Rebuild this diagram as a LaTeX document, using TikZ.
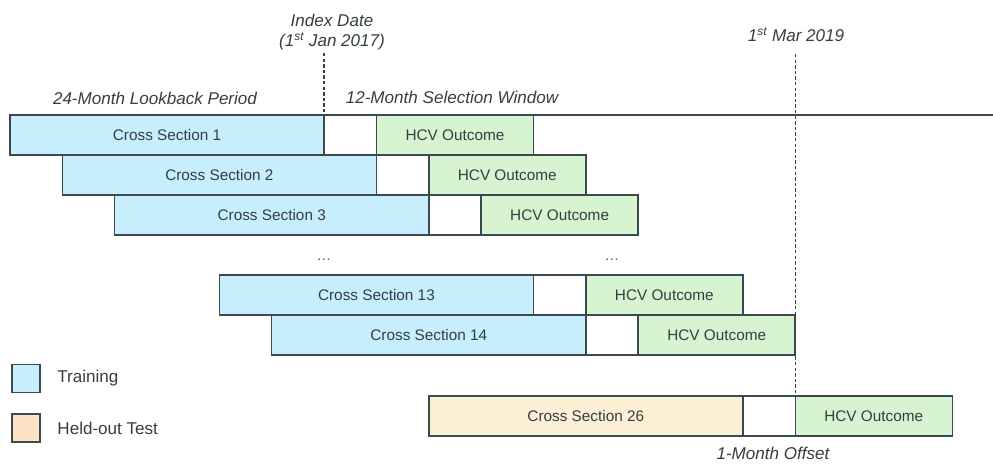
\documentclass[tikz,border=0pt]{standalone}
\usepackage{fontspec}
\setmainfont{Liberation Sans}
\usepackage{xcolor}
\usepackage{tikz}
\usetikzlibrary{positioning}

\definecolor{edgegray}{HTML}{3C4A4F}
\definecolor{inkgray}{HTML}{343E43}
\definecolor{trainblue}{HTML}{C6EEFD}
\definecolor{outgreen}{HTML}{D7F4D1}
\definecolor{testsand}{HTML}{FBEFD4}
\definecolor{keypeach}{HTML}{FFE2C6}

% one month step of the sliding window
\newlength{\slot}
\setlength{\slot}{39.26pt}

\begin{document}
\begin{tikzpicture}[
  x=0.75pt, y=-0.75pt,
  seg/.style={draw=edgegray, line width=1.1pt, outer sep=0pt, inner sep=0pt,
              minimum height=30pt, text=inkgray, font=\fontsize{11.5}{13}\selectfont},
  train/.style={seg, fill=trainblue, minimum width=6\slot},
  heldout/.style={seg, fill=testsand, minimum width=6\slot},
  offset/.style={seg, fill=white, minimum width=\slot},
  outcome/.style={seg, fill=outgreen, minimum width=3\slot},
  caption/.style={text=inkgray, font=\fontsize{12.8}{15}\selectfont\itshape, align=center},
  keybox/.style={draw=edgegray, line width=1.1pt, minimum size=21pt, inner sep=0pt},
  keytext/.style={text=inkgray, font=\fontsize{12.8}{15}\selectfont, anchor=west},
  marker/.style={draw=edgegray!90!black, line width=1pt, dash pattern=on 2.6pt off 1.6pt},
  skip/.style={text=inkgray!85, font=\fontsize{11}{12}\selectfont},
]
\useasboundingbox (0,0) rectangle (993,468);

% cross sections 1-3
\node[train, anchor=north west] (cs1) at (10,115) {Cross Section 1};
\node[offset,  right=0pt of cs1]  (gap1) {};
\node[outcome, right=0pt of gap1] (out1) {HCV Outcome};

\node[train, anchor=north west] (cs2) at ([xshift=\slot]cs1.south west) {Cross Section 2};
\node[offset,  right=0pt of cs2]  (gap2) {};
\node[outcome, right=0pt of gap2] (out2) {HCV Outcome};

\node[train, anchor=north west] (cs3) at ([xshift=\slot]cs2.south west) {Cross Section 3};
\node[offset,  right=0pt of cs3]  (gap3) {};
\node[outcome, right=0pt of gap3] (out3) {HCV Outcome};

% cross sections 13-14
\node[train, anchor=north west] (cs13) at (219.4,275) {Cross Section 13};
\node[offset,  right=0pt of cs13]  (gap13) {};
\node[outcome, right=0pt of gap13] (out13) {HCV Outcome};

\node[train, anchor=north west] (cs14) at ([xshift=\slot]cs13.south west) {Cross Section 14};
\node[offset,  right=0pt of cs14]  (gap14) {};
\node[outcome, right=0pt of gap14] (out14) {HCV Outcome};

% test cross section
\node[heldout, anchor=north west] (cs26) at (428.8,396) {Cross Section 26};
\node[offset,  right=0pt of cs26]  (gap26) {};
\node[outcome, right=0pt of gap26] (out26) {HCV Outcome};

\node[skip] (skipa) at (324,260) {\dots};
\node[skip] (skipb) at (612,260) {\dots};

% time axis and reference dates
\coordinate (axisend) at (993,115);
\draw[draw=edgegray, line width=1.1pt] (cs1.north west) -- (axisend);

\coordinate (idx) at (cs1.north east |- 0,53);
\coordinate (mar) at (out26.north west |- 0,54);
\draw[marker] (idx) -- (cs1.north east);
\draw[marker] (mar) -- (out26.north west);

\node[caption] (idxlbl) at (332,32) {Index Date\\(1\textsuperscript{st} Jan 2017)};
\node[caption] (marlbl) at (796,35) {1\textsuperscript{st} Mar 2019};
\node[caption] (lookback) at (155,98) {24-Month Lookback Period};
\node[caption] (window) at (452,97) {12-Month Selection Window};
\node[caption] (offlbl) at (773,453) {1-Month Offset};

% legend
\node[keybox, fill=trainblue] (keytrain) at (26,378.5) {};
\node[keytext, right=9pt of keytrain] (keytrainlbl) {Training};
\node[keybox, fill=keypeach] (keytest) at (26,428) {};
\node[keytext, right=9pt of keytest] (keytestlbl) {Held-out Test};
\end{tikzpicture}
\end{document}
